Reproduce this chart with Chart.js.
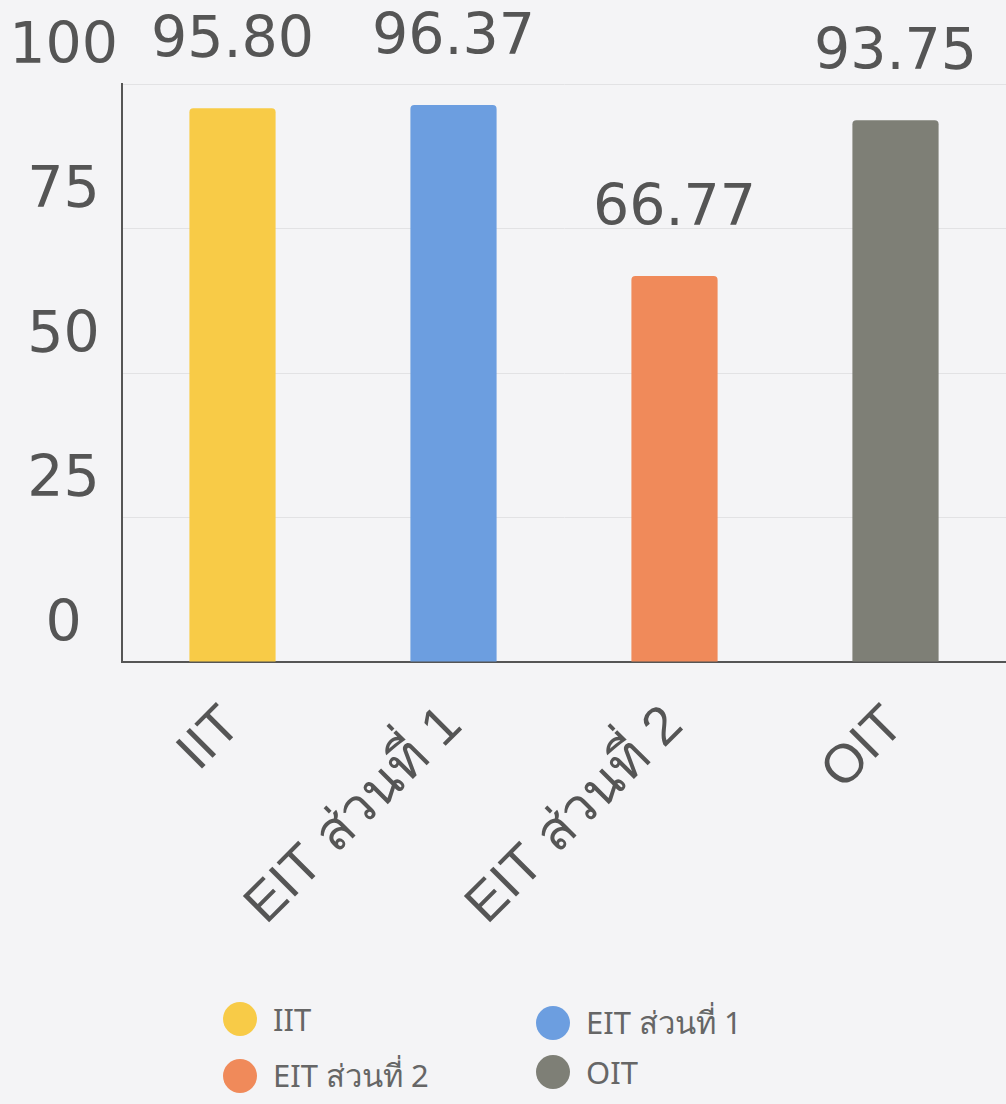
<!DOCTYPE html>
<html>
<head>
<meta charset="utf-8">
<script src="https://cdn.jsdelivr.net/npm/chart.js@4.4.1/dist/chart.umd.min.js"></script>
<style>
  body { margin: 0; background: #f4f4f6; width: 1006px; height: 1104px; overflow: hidden; position: relative; }
  #wrap { position: absolute; left: 0; top: 0; width: 1006px; height: 980px; }
  #legend { position: absolute; left: 0; top: 998px; width: 1006px; font-family: "Noto Sans", "DejaVu Sans", sans-serif; font-size: 31px; color: #666; }
  .item { position: absolute; display: flex; align-items: center; }
  .dot { width: 34px; height: 34px; border-radius: 50%; margin-right: 16px; }
</style>
</head>
<body>
<div id="wrap"><canvas id="myChart"></canvas></div>
<div id="legend"></div>
<script>
var categories = ["IIT", "EIT ส่วนที่ 1", "EIT ส่วนที่ 2", "OIT"];
var scores = [95.80, 96.37, 66.77, 93.75];
var COLORS = ["#f8cb47", "#6c9ee0", "#f08a5a", "#7e7f76"];
var yTicks = [0, 25, 50, 75, 100];

// value labels above bars
var valueLabels = {
  id: "valueLabels",
  afterDatasetsDraw: function(chart) {
    var ctx = chart.ctx;
    var meta = chart.getDatasetMeta(0);
    ctx.save();
    ctx.font = "57px 'DejaVu Sans'";
    ctx.fillStyle = "#555";
    ctx.textAlign = "center";
    ctx.textBaseline = "middle";
    meta.data.forEach(function(bar, i) {
      ctx.fillText(scores[i].toFixed(2), bar.x, bar.y - 66);
    });
    ctx.restore();
  }
};

new Chart("myChart", {
  type: "bar",
  data: {
    labels: categories,
    datasets: [{
      data: scores,
      backgroundColor: COLORS,
      borderRadius: 4,
      borderSkipped: "bottom",
      categoryPercentage: 1,
      barPercentage: 0.39
    }]
  },
  options: {
    responsive: true,
    maintainAspectRatio: false,
    animation: false,
    layout: { padding: { top: 84, right: 0, left: 0, bottom: 0 } },
    plugins: {
      legend: { display: false },
      tooltip: { enabled: false }
    },
    scales: {
      x: {
        grid: { display: false, drawTicks: false },
        border: { color: "#555", width: 2 },
        ticks: {
          font: { family: "Liberation Sans", size: 54 },
          color: "#555",
          minRotation: 45,
          maxRotation: 45,
          padding: 32
        },
        afterFit: function(s) { s.height = 318; }
      },
      y: {
        min: 0,
        max: 100,
        afterBuildTicks: function(s) { s.ticks = yTicks.map(function(v) { return { value: v }; }); },
        grid: { color: "#e2e2e4", drawTicks: false },
        border: { color: "#555", width: 2 },
        ticks: {
          font: { family: "DejaVu Sans", size: 57 },
          color: "#555",
          crossAlign: "center",
          labelOffset: -36,
          padding: 4
        },
        afterFit: function(s) { s.width = 122; }
      }
    }
  },
  plugins: [valueLabels]
});

// legend in two columns
var legend = document.getElementById("legend");
var colX = [223, 536];
var rowY = [0, 53];
categories.forEach(function(c, i) {
  var el = document.createElement("div");
  el.className = "item";
  el.style.left = colX[i % 2] + "px";
  el.style.top = rowY[Math.floor(i / 2)] + "px";
  el.innerHTML = '<span class="dot" style="background:' + COLORS[i] + '"></span><span>' + c + '</span>';
  legend.appendChild(el);
});
</script>
</body>
</html>
